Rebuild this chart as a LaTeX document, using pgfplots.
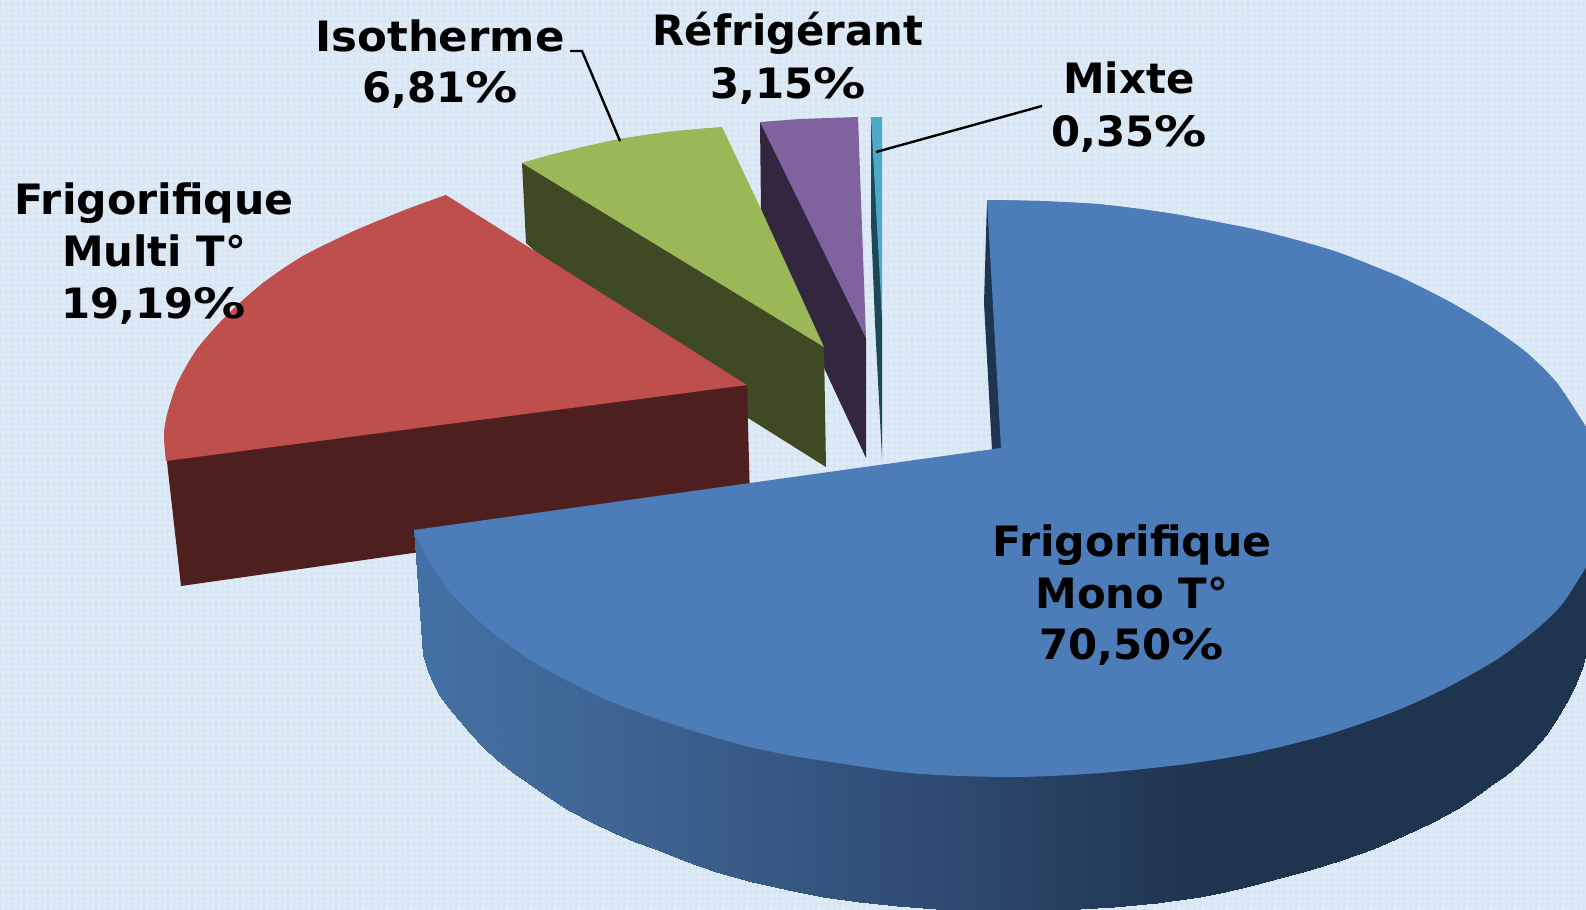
\documentclass[border=0pt]{standalone}
\usepackage{graphicx}
\usepackage{pgfplots}
\pgfplotsset{compat=1.18}
\usetikzlibrary{patterns}
\usepackage{fontspec}
\setmainfont{DejaVu Sans}
\definecolor{bg}{RGB}{219,232,246}
\definecolor{bgl}{RGB}{233,241,250}
\definecolor{bgd}{RGB}{207,221,238}
\definecolor{pblue}{RGB}{77,125,185}
\definecolor{dblue}{RGB}{31,52,79}
\definecolor{pred}{RGB}{190,79,77}
\definecolor{dred}{RGB}{77,31,31}
\definecolor{pgreen}{RGB}{155,184,89}
\definecolor{dgreen}{RGB}{63,73,35}
\definecolor{ppurple}{RGB}{128,98,158}
\definecolor{dpurple}{RGB}{51,38,63}
\definecolor{pteal}{RGB}{75,170,198}
\definecolor{dteal}{RGB}{30,72,87}
\newcommand{\lab}[3]{\node[anchor=base,font=\fontsize{20.9}{26}\selectfont\bfseries,text=black,inner sep=0pt] at (axis cs:#1,#2) {#3};}
\newcommand{\pc}{\scalebox{1.25}[1]{\%}}
\begin{document}
\begin{tikzpicture}
\begin{axis}[
  scale only axis, width=793pt, height=455pt,
  xmin=0, xmax=1586, ymin=0, ymax=910, y dir=reverse,
  hide axis, clip=true,
  colormap={sideblue}{rgb255(0pt)=(68,113,164); rgb255(206pt)=(62,100,147); rgb255(496pt)=(47,77,117); rgb255(786pt)=(31,52,79); rgb255(1172pt)=(31,52,79)},
  point meta min=414, point meta max=1586,
]
% background
\addplot[fill=bg,draw=none] coordinates {(0,0)(1586,0)(1586,910)(0,910)} --cycle;
\addplot[pattern=crosshatch dots,pattern color=bgl,draw=none] coordinates {(0,0)(1586,0)(1586,910)(0,910)} --cycle;
\addplot[pattern=dots,pattern color=bgd,draw=none] coordinates {(0,0)(1586,0)(1586,910)(0,910)} --cycle;
% purple
\addplot[fill=dpurple,draw=none] coordinates {(760,122)(761,210)(825,370)(866,458)(866,338)(820,200)} --cycle;
\addplot[fill=ppurple,draw=none] coordinates {(760,122)(800,119)(858,117)(866,338)} --cycle;
% teal
\addplot[fill=dteal,draw=none] coordinates {(871,117)(871,223)(875,323)(882,458)(882,317)(877,180)} --cycle;
\addplot[fill=pteal,draw=none] coordinates {(871,117)(882,117)(882,317)} --cycle;
% green
\addplot[fill=dgreen,draw=none] coordinates {(522,163)(526,243)(700,400)(748,418)(826,467)(824,347)(700,240)} --cycle;
\addplot[fill=pgreen,draw=none] coordinates {(522,163)(550,155)(583,147)(620,139)(667,132)(722,127)(760,207)(824,347)} --cycle;
\addplot[fill=pgreen,draw=none,smooth] coordinates {(522,163)(550,155)(583,147)(620,139)(667,132)(722,127)} --cycle;
% red
\addplot[fill=dred,draw=none] coordinates {(172,440)(167,462)(181,586)(420,552)(750,500)(747,385)(700,370)} --cycle;
\addplot[fill=pred,draw=none] coordinates {(446,195)(405,210)(354,231)(303,256)(263,283)(228,314)(197,349)(177,384)(167,415)(164,435)(166,461)(747,385)} --cycle;
\addplot[fill=pred,draw=none,smooth] coordinates {(446,195)(405,210)(354,231)(303,256)(263,283)(228,314)(197,349)(177,384)(167,415)(164,435)(166,461)} --cycle;
% blue inner wall
\addplot[fill=dblue,draw=none] coordinates {(987,201)(984,303)(992,450)(1002,450)(995,201)} --cycle;
% blue outer wall
\addplot[surf,shader=interp,mesh/cols=2,point meta=\thisrow{m}] table {
x y m
414 530 414
423 655 414
428 535 428
428 671 428
433 535 433
433 683 433
439 535 439
439 695 439
448 535 448
448 707 448
459 535 459
459 720 459
470 535 470
470 733 470
483 535 483
483 747 483
497 535 497
497 760 497
512 535 512
512 772 512
528 535 528
528 783 528
548 535 548
548 797 548
568 535 568
568 810 568
591 535 591
591 822 591
614 535 614
614 833 614
635 535 635
635 842 635
655 535 655
655 849 655
685 535 685
685 861 685
716 535 716
716 872 716
752 535 752
752 882 752
788 535 788
788 890 788
823 535 823
823 897 823
859 535 859
859 902 859
897 535 897
897 906 897
936 535 936
936 908.5 936
974 535 974
974 910 974
1012 535 1012
1012 911 1012
1063 535 1063
1063 910 1063
1114 535 1114
1114 907 1114
1157 535 1157
1157 903 1157
1200 535 1200
1200 897 1200
1225 535 1225
1225 892 1225
1250 535 1250
1250 886 1250
1280 535 1280
1280 878 1280
1310 535 1310
1310 870 1310
1342 535 1342
1342 860 1342
1373 535 1373
1373 849 1373
1403 535 1403
1403 836 1403
1433 535 1433
1433 822 1433
1457 535 1457
1457 809 1457
1471 535 1471
1471 800 1471
1490 535 1490
1490 786 1490
1506 535 1506
1506 775 1506
1520 535 1520
1520 763 1520
1533 535 1533
1533 750 1533
1546 535 1546
1546 735 1546
1556 535 1556
1556 720 1556
1566 535 1566
1566 703 1566
1576 535 1576
1576 683 1576
1582 535 1582
1582 668 1582
1586 535 1586
1586 653 1586
};
% blue top
\addplot[fill=pblue,draw=none] coordinates {(987,200)(1040,201)(1097,204)(1140,209)(1180,215)(1253,229)(1300,241)(1340,253)(1400,277)(1450,302)(1490,326)(1527,353)(1557,383)(1586,427)(1586,567)(1563,603)(1539,627)(1499,658)(1446,688)(1393,712)(1326,735)(1253,753)(1186,764)(1100,773)(1012,777)(910,773)(800,757)(750,747)(707,735)(660,720)(607,700)(560,677)(523,655)(493,633)(467,610)(447,588)(427,557)(414,530)(750,483)(1001,448)} --cycle;
\addplot[fill=pblue,draw=none,smooth] coordinates {(987,200)(1040,201)(1097,204)(1140,209)(1180,215)(1253,229)(1300,241)(1340,253)(1400,277)(1450,302)(1490,326)(1527,353)(1557,383)(1586,427)} --cycle;
\addplot[fill=pblue,draw=none,smooth] coordinates {(1586,567)(1563,603)(1539,627)(1499,658)(1446,688)(1393,712)(1326,735)(1253,753)(1186,764)(1100,773)(1012,777)(910,773)(800,757)(750,747)(707,735)(660,720)(607,700)(560,677)(523,655)(493,633)(467,610)(447,588)(427,557)(414,530)} --cycle;
% leader lines
\addplot[black,line width=1.2pt] coordinates {(570,51)(582,51)(620,141)};
\addplot[black,line width=1.2pt] coordinates {(1042,106)(876,152)};
% labels
\lab{440}{51}{\scalebox{1.04}[1]{Isotherme}}
\lab{440}{102}{6,81\pc}
\lab{788}{46}{Réfrigérant}
\lab{788}{98}{3,15\pc}
\lab{1129}{93}{Mixte}
\lab{1129}{146}{0,35\pc}
\lab{154}{214}{\scalebox{1.02}[1]{Frigorifique}}
\lab{154}{266}{Multi T°}
\lab{154}{318}{19,19\pc}
\lab{1132}{556}{\scalebox{1.02}[1]{Frigorifique}}
\lab{1132}{608}{Mono T°}
\lab{1132}{659}{70,50\pc}
\end{axis}
\end{tikzpicture}
\end{document}
